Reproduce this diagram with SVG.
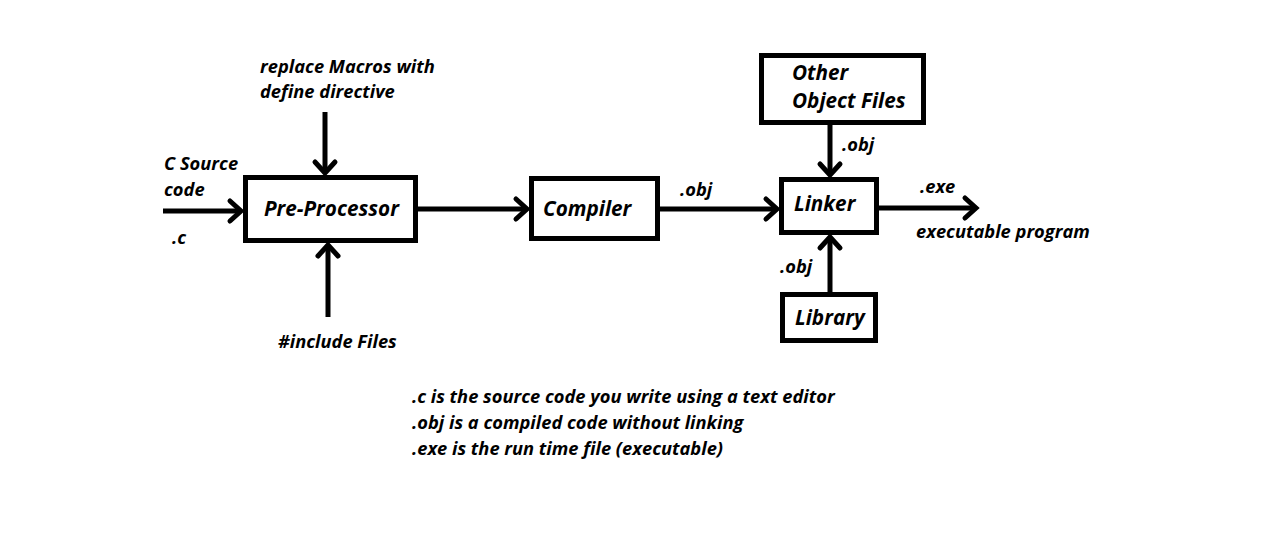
<svg xmlns="http://www.w3.org/2000/svg" width="1263" height="549" viewBox="0 0 1263 549">
<style>
.box{fill:#fff;stroke:#000;stroke-width:5}
.ln{fill:none;stroke:#000;stroke-width:5;marker-end:url(#chev)}
text{font-family:"Open Sans","Liberation Sans",sans-serif;font-weight:bold;font-style:italic;fill:#000}
.s{font-size:18.3px}
.b{font-size:20.7px}
</style>
<defs>
<marker id="chev" markerUnits="userSpaceOnUse" markerWidth="30" markerHeight="30" viewBox="-16 -15 20 30" refX="0" refY="0" orient="auto">
<polyline points="-11,-10 0,0 -11,10" fill="none" stroke="#000" stroke-width="5" stroke-linecap="round" stroke-linejoin="miter"/>
</marker>
</defs>
<rect width="1263" height="549" fill="#fff"/>
<g id="connectors">
<line class="ln" x1="163" y1="211" x2="241" y2="211"/>
<line class="ln" x1="325" y1="112" x2="325" y2="173"/>
<line class="ln" x1="328" y1="317" x2="328" y2="245"/>
<line class="ln" x1="418" y1="209" x2="527" y2="209"/>
<line class="ln" x1="660" y1="209" x2="777" y2="209"/>
<line class="ln" x1="830" y1="125" x2="830" y2="175"/>
<line class="ln" x1="830" y1="292" x2="830" y2="237"/>
<line class="ln" x1="879" y1="208" x2="976" y2="208"/>
</g>
<g id="preprocessor"><rect class="box" x="245.5" y="177.5" width="170" height="63"/><text class="b" x="264" y="216">Pre-Processor</text></g>
<g id="compiler"><rect class="box" x="531.5" y="178.5" width="126" height="60"/><text class="b" x="543" y="216">Compiler</text></g>
<g id="linker"><rect class="box" x="781.5" y="179.5" width="95" height="53"/><text class="b" x="794" y="211">Linker</text></g>
<g id="other-object-files"><rect class="box" x="761.5" y="55.5" width="162" height="67"/><text class="b" x="792" y="80">Other</text><text class="b" x="792" y="108">Object Files</text></g>
<g id="library"><rect class="box" x="782.5" y="294.5" width="93" height="46"/><text class="b" x="795" y="325">Library</text></g>
<g id="labels">
<text class="s" x="164" y="170">C Source</text>
<text class="s" x="164" y="196">code</text>
<text class="s" x="172" y="244">.c</text>
<text class="s" x="260" y="73">replace Macros with</text>
<text class="s" x="260" y="98">define directive</text>
<text class="s" x="278" y="348">#include Files</text>
<text class="s" x="680" y="196">.obj</text>
<text class="s" x="842" y="151">.obj</text>
<text class="s" x="780" y="273">.obj</text>
<text class="s" x="920" y="193">.exe</text>
<text class="s" x="916" y="238">executable program</text>
<text class="s" x="412" y="403">.c is the source code you write using a text editor</text>
<text class="s" x="412" y="429">.obj is a compiled code without linking</text>
<text class="s" x="412" y="455">.exe is the run time file (executable)</text>
</g>
</svg>
